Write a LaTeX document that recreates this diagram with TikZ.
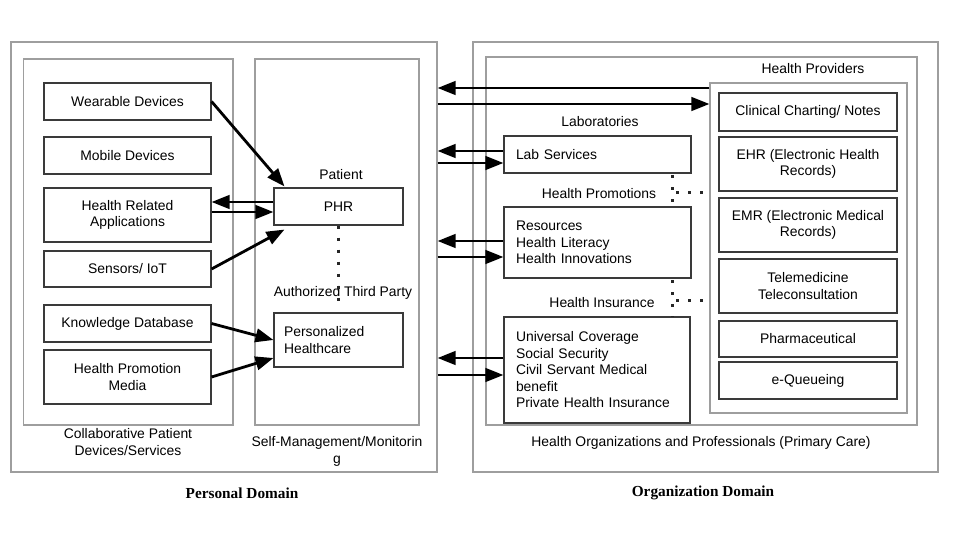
\documentclass[tikz,border=0pt]{standalone}
\usepackage{fontspec}
\setmainfont{Liberation Sans}
\newfontfamily\titlefont{Liberation Serif}
\usetikzlibrary{arrows.meta,calc}
\definecolor{frame}{HTML}{9E9E9E}
\definecolor{boxline}{HTML}{3A3A3A}
\tikzset{
  grp/.style={draw=frame, line width=1.1pt, fill=none},
  item/.style={draw=boxline, line width=1.1pt, fill=white, inner sep=0pt, align=center, font=\fontsize{13.9}{16.5}\selectfont},
  litem/.style={draw=boxline, line width=1.1pt, fill=white, inner xsep=12pt, inner ysep=0pt, align=left, font=\fontsize{13.9}{16.5}\selectfont},
  lbl/.style={inner sep=0pt, align=center, font=\fontsize{13.9}{16.5}\selectfont},
  ttl/.style={inner sep=0pt, font=\titlefont\bfseries\fontsize{15.3}{18}\selectfont},
  arr/.style={line width=2.8pt, -{Triangle[length=18pt,width=13.5pt]}},
  dots/.style={line width=3pt, dash pattern=on 3pt off 9pt, color=black!85}
}
\begin{document}
\begin{tikzpicture}[x=1pt,y=-1pt]
\useasboundingbox (0,0) rectangle (960,540);
% personal domain
\node[grp, minimum width=426pt, minimum height=430pt, inner sep=0pt] (pd) at (224,257) {};
\node[grp, minimum width=209.5pt, minimum height=366pt, inner sep=0pt] (collab) at (128.25,242) {};
\node[grp, minimum width=164pt, minimum height=366pt, inner sep=0pt] (self) at (337,242) {};
\node[item, minimum width=167pt, minimum height=37pt] (wear) at (127.5,101.5) {Wearable Devices};
\node[item, minimum width=167pt, minimum height=37pt] (mob) at (127.5,155.5) {Mobile Devices};
\node[item, minimum width=167pt, minimum height=54pt] (hra) at (127.5,215) {Health Related\\Applications};
\node[item, minimum width=167pt, minimum height=36pt] (sens) at (127.5,269) {Sensors/ IoT};
\node[item, minimum width=167pt, minimum height=37pt] (know) at (127.5,323.5) {Knowledge Database};
\node[item, minimum width=167pt, minimum height=54pt] (hpm) at (127.5,377) {Health Promotion\\Media};
\node[item, minimum width=129pt, minimum height=37pt] (phr) at (338.5,206.5) {PHR};
\node[litem, inner xsep=10pt, text width=109pt, minimum height=54pt] (ph) at (338.5,340) {Personalized\\Healthcare};
\node[lbl] (patient) at (341,175) {Patient};
\node[lbl] (atp) at (343,293) {Authorized Third Party};
\node[lbl] (collabl) at (128,442) {Collaborative Patient\\Devices/Services};
\node[lbl] (selfl) at (337,451.5) {Self-Management/Monitorin\\g};
\node[ttl] (pdt) at (242,493) {Personal Domain};
% organization domain
\node[grp, minimum width=465pt, minimum height=430pt, inner sep=0pt] (od) at (705.5,257) {};
\node[grp, minimum width=431pt, minimum height=368pt, inner sep=0pt] (hop) at (701.5,241) {};
\node[grp, minimum width=197pt, minimum height=330pt, inner sep=0pt] (hp) at (808.5,248) {};
\node[item, minimum width=178pt, minimum height=38pt] (cc) at (808,112) {Clinical Charting/ Notes};
\node[item, minimum width=178pt, minimum height=54pt] (ehr) at (808,164) {EHR (Electronic Health\\Records)};
\node[item, minimum width=178pt, minimum height=54pt] (emr) at (808,225) {EMR (Electronic Medical\\Records)};
\node[item, minimum width=178pt, minimum height=54pt] (tele) at (808,286) {Telemedicine\\Teleconsultation};
\node[item, minimum width=178pt, minimum height=36pt] (pharm) at (808,339) {Pharmaceutical};
\node[item, minimum width=178pt, minimum height=37pt] (eq) at (808,380.5) {e-Queueing};
\node[litem, text width=163pt, minimum height=37pt] (lab) at (597.5,154.5) {Lab Services};
\node[litem, text width=163pt, minimum height=71pt] (hpr) at (597.5,242.5) {Resources\\Health Literacy\\Health Innovations};
\node[litem, text width=162pt, minimum height=106pt] (hi) at (597,370) {Universal Coverage\\Social Security\\Civil Servant Medical\\benefit\\Private Health Insurance};
\node[lbl] (labl) at (600,122) {Laboratories};
\node[lbl] (hprl) at (599,194) {Health Promotions};
\node[lbl] (hil) at (602,303) {Health Insurance};
\node[lbl] (hpl) at (813,69) {Health Providers};
\node[lbl] (hopl) at (701,443) {Health Organizations and Professionals (Primary Care)};
\node[ttl] (odt) at (703,493) {Organization Domain};
% personal arrows
\draw[arr] (wear.east) -- ($(phr.north west)+(11,-1)$);
\draw[arr] (phr.west |- 0,202) -- (hra.east |- 0,202);
\draw[arr] (hra.east |- 0,212) -- (phr.west |- 0,212);
\draw[arr] (sens.east) -- ($(phr.south west)+(11,4)$);
\draw[arr] (know.east) -- (ph.west);
\draw[arr] (hpm.east) -- (ph.west |- 0,358);
% dotted links
\coordinate (phrdot) at (338.5,305);
\draw[dots] (phr.south) -- (phrdot);
\coordinate (d1) at (672,175);
\coordinate (d2) at (676,192);
\coordinate (d3) at (672,280);
\coordinate (d4) at (676,300);
\draw[dots] (d1) -- (672,207);
\draw[dots] (d2) -- (hp.west |- d2);
\draw[dots] (d3) -- (672,317);
\draw[dots] (d4) -- (hp.west |- d4);
% cross-domain arrows
\draw[arr] (hp.west |- 0,88) -- (pd.east |- 0,88);
\draw[arr] (pd.east |- 0,104) -- (hp.west |- 0,104);
\draw[arr] (lab.west |- 0,151) -- (pd.east |- 0,151);
\draw[arr] (pd.east |- 0,163) -- (lab.west |- 0,163);
\draw[arr] (hpr.west |- 0,241) -- (pd.east |- 0,241);
\draw[arr] (pd.east |- 0,257) -- (hpr.west |- 0,257);
\draw[arr] (hi.west |- 0,358) -- (pd.east |- 0,358);
\draw[arr] (pd.east |- 0,375) -- (hi.west |- 0,375);
\end{tikzpicture}
\end{document}
